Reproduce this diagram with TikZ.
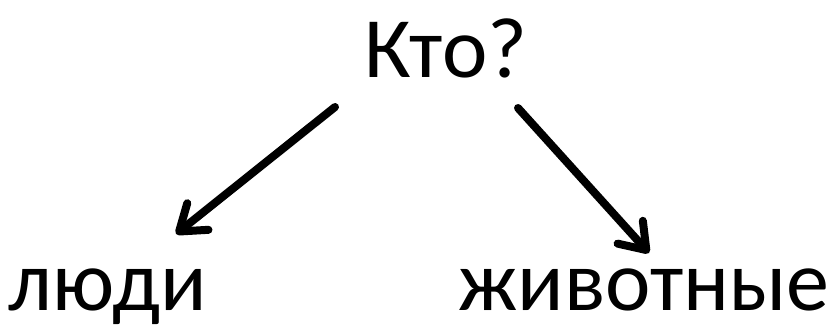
\documentclass[tikz,border=0pt]{standalone}
\usepackage{fontspec}
\setmainfont{Carlito}
\usetikzlibrary{arrows.meta}
\begin{document}
\begin{tikzpicture}[x=1pt,y=1pt,
  lbl/.style={font=\fontsize{86}{100}\selectfont, inner sep=0pt, anchor=base},
  arr/.style={line width=8pt, line cap=round, -{Straight Barb[length=24pt,width=34pt,round]}}]
\useasboundingbox (0,0) rectangle (833,330);
\node[lbl] (who) at (446,252) {Кто?};
\node[lbl] (people) at (108,20) {люди};
\node[lbl] (animals) at (644,20) {животные};
\coordinate (s1) at (335,223);
\coordinate (e1) at (176,96);
\coordinate (s2) at (518,222);
\coordinate (e2) at (649,77);
\draw[arr] (s1) -- (e1);
\draw[arr] (s2) -- (e2);
\end{tikzpicture}
\end{document}
